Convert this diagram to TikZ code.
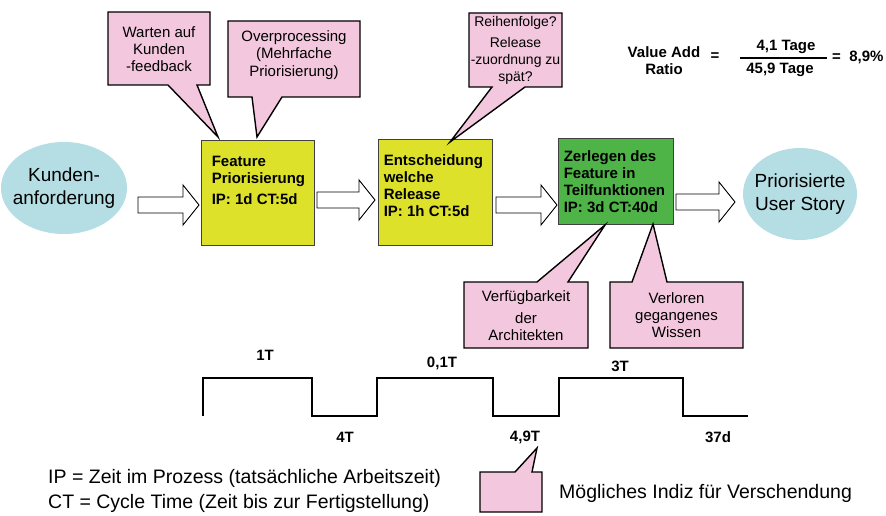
\documentclass[tikz,border=0pt]{standalone}
\usepackage{fontspec}
\setmainfont{Liberation Sans}
\usetikzlibrary{shapes.geometric}
\definecolor{boxyellow}{RGB}{222,225,42}
\definecolor{boxgreen}{RGB}{78,180,72}
\definecolor{notepink}{RGB}{243,199,221}
\definecolor{endblue}{RGB}{181,222,228}
\newcommand{\flowarrow}[3]{%
  \draw[flow] (#1,#3-8) -- (#2-16,#3-8) -- (#2-16,#3-20) -- (#2,#3)
    -- (#2-16,#3+20) -- (#2-16,#3+8) -- (#1,#3+8) -- cycle;}
\begin{document}
\begin{tikzpicture}[x=1pt,y=-1pt,
    proc/.style={draw=black!75,line width=0.9pt,inner sep=0pt},
    proctext/.style={anchor=north west,align=left,inner sep=0pt,font=\fontsize{15}{17}\selectfont\bfseries},
    endnode/.style={ellipse,fill=endblue,inner sep=0pt},
    endtext/.style={align=center,inner sep=0pt,font=\fontsize{19}{23}\selectfont},
    note/.style={draw,line width=1.4pt,fill=notepink,line join=miter},
    notetext/.style={align=center,inner sep=0pt,font=\fontsize{15}{17}\selectfont},
    flow/.style={draw,line width=0.9pt,fill=white,line join=miter},
    wave/.style={line width=1.8pt},
    wavelabel/.style={inner sep=0pt,font=\fontsize{15}{17}\selectfont\bfseries},
    ratio/.style={inner sep=0pt,font=\fontsize{15}{17}\selectfont\bfseries},
    legend/.style={anchor=west,inner sep=0pt,font=\fontsize{19.5}{22}\selectfont}]
\useasboundingbox (0,0) rectangle (886,516);

\node[endnode,minimum width=126pt,minimum height=92pt] (kunde) at (64,188) {};
\node[endtext] (kundetext) at (kunde) {Kunden-\\anforderung};
\node[endnode,minimum width=114pt,minimum height=92pt] (story) at (800,194) {};
\node[endtext] (storytext) at (story) {Priorisierte\\User Story};

\node[proc,fill=boxyellow,minimum width=113pt,minimum height=105pt] (fp) at (257.5,192.5) {};
\node[proctext] (fptext) at ([xshift=11pt,yshift=-16pt]fp.north west) {Feature\\Priorisierung\\[4pt]IP: 1d CT:5d};
\node[proc,fill=boxyellow,minimum width=114pt,minimum height=106pt] (ew) at (435,192) {};
\node[proctext] (ewtext) at ([xshift=6pt,yshift=-16pt]ew.north west) {Entscheidung\\welche\\Release\\IP: 1h CT:5d};
\node[proc,fill=boxgreen,minimum width=115pt,minimum height=86pt] (zf) at (615.5,181) {};
\node[proctext] (zftext) at ([xshift=6pt,yshift=-13pt]zf.north west) {Zerlegen des\\Feature in\\Teilfunktionen\\IP: 3d CT:40d};

\flowarrow{138}{199}{205}
\flowarrow{317}{375}{200}
\flowarrow{496}{557}{205}
\flowarrow{676}{735}{202}

\draw[note] (108,12) -- (210,12) -- (210,85) -- (197,85) -- (218,137) -- (168,85) -- (108,85) -- cycle;
\node[notetext] (warten) at (159,49) {Warten auf\\Kunden\\-feedback};
\draw[note] (228,21) -- (360,21) -- (360,97) -- (282,97) -- (257,137) -- (252,97) -- (228,97) -- cycle;
\node[notetext,font=\fontsize{15}{17.5}\selectfont] (overproc) at (294,55) {Overprocessing\\(Mehrfache\\Priorisierung)};
\draw[note] (469,13) -- (562,13) -- (562,87) -- (525,87) -- (450,142) -- (492,87) -- (469,87) -- cycle;
\node[notetext,font=\fontsize{14}{17}\selectfont] (reihe) at (515.5,50) {Reihenfolge?\\[4pt]Release\\-zuordnung zu\\spät?};
\draw[note] (464,282) -- (537,282) -- (605,225) -- (568,282) -- (588,282) -- (588,348) -- (464,348) -- cycle;
\node[notetext] (architekt) at (526,316) {Verfügbarkeit\\[5pt]der\\Architekten};
\draw[note] (610,282) -- (632,282) -- (653,224) -- (667,282) -- (743,282) -- (743,348) -- (610,348) -- cycle;
\node[notetext] (wissen) at (676.5,315.5) {Verloren\\gegangenes\\Wissen};

\node[ratio,align=center] (varatio) at (664,60.5) {Value Add\\Ratio};
\node[ratio] (eqa) at (715,57) {=};
\node[ratio] (num) at (786,47) {4,1 Tage};
\node[ratio] (den) at (780,70) {45,9 Tage};
\draw[line width=1.6pt] (740,58) -- (827,58);
\node[ratio,anchor=west] (result) at (832,57) {=\ \ 8,9\%};

\draw[wave] (203,416) -- (203,378) -- (312,378) -- (312,416) -- (377,416) -- (377,378)
  -- (493,378) -- (493,416) -- (559,416) -- (559,378) -- (683,378) -- (683,416) -- (748,416);
\node[wavelabel] (t1) at (265,355) {1T};
\node[wavelabel] (t2) at (345,437) {4T};
\node[wavelabel] (t3) at (442,363) {0,1T};
\node[wavelabel] (t4) at (525,437) {4,9T};
\node[wavelabel] (t5) at (620,366) {3T};
\node[wavelabel] (t6) at (718,437) {37d};

\node[legend] (ipnote) at (48,478) {IP = Zeit im Prozess (tatsächliche Arbeitszeit)};
\node[legend] (ctnote) at (48,503) {CT = Cycle Time (Zeit bis zur Fertigstellung)};
\draw[note] (480,472) -- (515,472) -- (537,448) -- (532,472) -- (542,472) -- (542,512) -- (480,512) -- cycle;
\node[legend] (indiz) at (559,493) {Mögliches Indiz für Verschendung};
\end{tikzpicture}
\end{document}
